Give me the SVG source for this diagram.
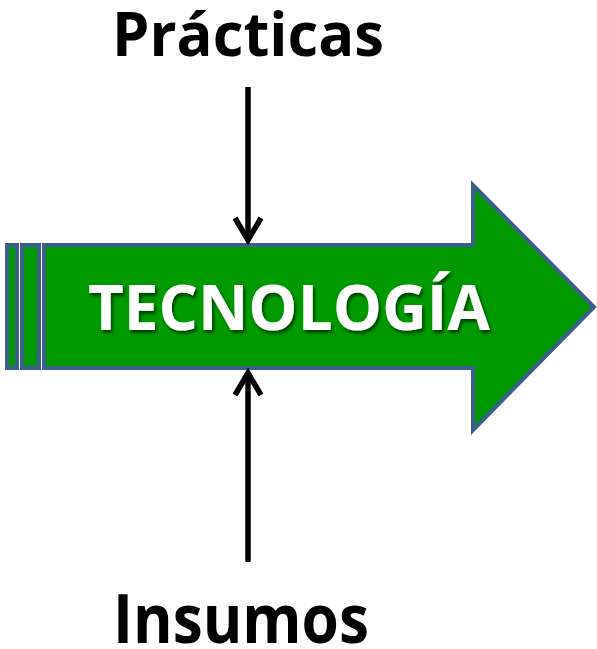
<svg xmlns="http://www.w3.org/2000/svg" width="597" height="649" viewBox="0 0 597 649">
<defs>
<style>
.box{fill:#009900;stroke:#3B5E8C;stroke-width:4;stroke-linejoin:miter}
.lbl{font-family:"Open Sans","Liberation Sans",sans-serif;font-weight:bold;fill:#000}
.big{font-family:"Open Sans","Liberation Sans",sans-serif;font-weight:bold;fill:#fff}
.conn{stroke:#000;stroke-width:5.5;fill:none}
</style>
<filter id="sh" x="-5%" y="-20%" width="110%" height="140%">
<feGaussianBlur in="SourceAlpha" stdDeviation="1.5"/>
<feOffset dx="2" dy="3" result="b"/>
<feFlood flood-color="#000" flood-opacity="0.55"/>
<feComposite in2="b" operator="in"/>
<feMerge><feMergeNode/><feMergeNode in="SourceGraphic"/></feMerge>
</filter>
</defs>
<g id="tecnologia">
<rect class="box" x="7" y="245" width="10" height="123"/>
<rect class="box" x="22" y="245" width="17" height="123"/>
<path class="box" d="M44 245 H473 V185 L594 307 L473 430 V368 H44 Z"/>
<text class="big" x="289" y="330" font-size="63" text-anchor="middle" textLength="402" lengthAdjust="spacingAndGlyphs" filter="url(#sh)">TECNOLOGÍA</text>
</g>
<g id="practicas">
<text class="lbl" x="248" y="56" font-size="60" text-anchor="middle" textLength="272" lengthAdjust="spacingAndGlyphs">Prácticas</text>
</g>
<g id="insumos">
<text class="lbl" x="241" y="643" font-size="68" text-anchor="middle" textLength="256" lengthAdjust="spacingAndGlyphs">Insumos</text>
</g>
<g id="connectors">
<path class="conn" d="M248 87 V240"/>
<path class="conn" d="M235 218 L248 240 L261 218" stroke-linejoin="miter"/>
<path class="conn" d="M248 562 V373"/>
<path class="conn" d="M235 395 L248 373 L261 395" stroke-linejoin="miter"/>
</g>
</svg>
